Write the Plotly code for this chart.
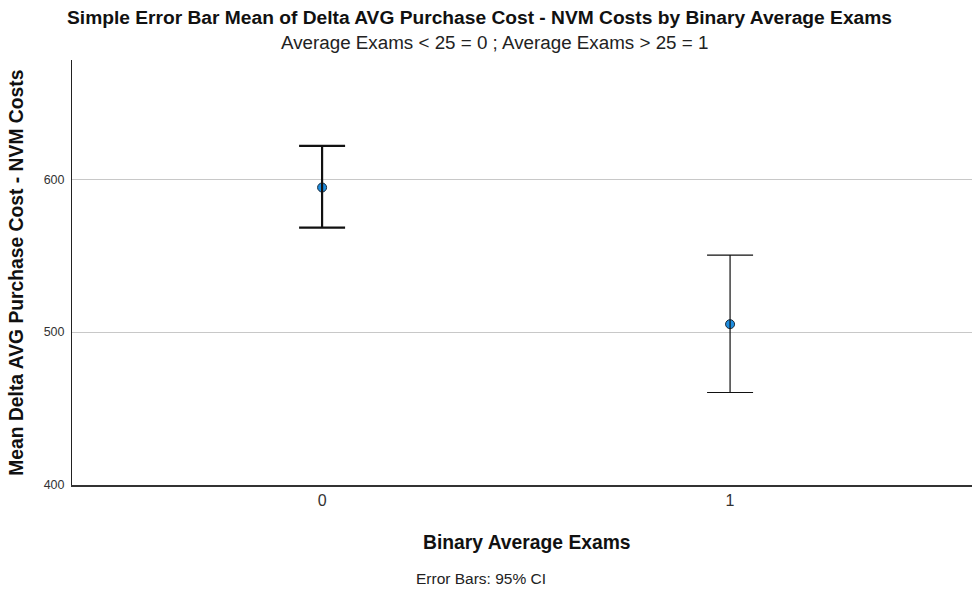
import plotly.graph_objects as go

categories = ["0", "1"]
means = [594.6, 505.2]
upper = [621.8, 550.3]
lower = [568.3, 460.5]

xpos = [0, 1]
thick = [2.2, 1.2]

fig = go.Figure()

fig.add_trace(go.Scatter(
    x=xpos, y=means, mode="markers",
    marker=dict(size=9, color="#1f8ee0", line=dict(color="#1a2a3a", width=1)),
    showlegend=False, hoverinfo="skip"))

for i in range(len(categories)):
    fig.add_trace(go.Scatter(
        x=[xpos[i]], y=[means[i]], mode="markers",
        marker=dict(size=1, opacity=0),
        error_y=dict(type="data", symmetric=False,
                     array=[upper[i] - means[i]],
                     arrayminus=[means[i] - lower[i]],
                     width=23, thickness=thick[i], color="#111111"),
        showlegend=False, hoverinfo="skip"))

font = "Liberation Sans, Arial, sans-serif"

fig.update_layout(
    width=973, height=592,
    margin=dict(l=72, r=1, t=60, b=107),
    paper_bgcolor="white", plot_bgcolor="white",
    font=dict(family=font, color="#222"),
    xaxis=dict(range=[-0.613, 1.593], tickvals=xpos, ticktext=categories,
               showgrid=False, zeroline=False, showline=True,
               linecolor="#333", linewidth=1.5, ticks="",
               tickfont=dict(size=16, color="#333")),
    yaxis=dict(range=[400, 678], tickvals=[400, 500, 600],
               showgrid=True, gridcolor="#c8c8c8", gridwidth=1,
               zeroline=False, showline=True, linecolor="#222", linewidth=1,
               ticks="", ticklabelstandoff=4, tickfont=dict(size=12.5, color="#333")),
    annotations=[
        dict(text="<b>Simple Error Bar Mean of Delta AVG Purchase Cost - NVM Costs by Binary Average Exams</b>",
             xref="paper", yref="paper", x=0.453, y=1.099, xanchor="center", yanchor="middle",
             showarrow=False, font=dict(size=19.2, color="#111")),
        dict(text="Average Exams < 25 = 0 ; Average Exams > 25 = 1",
             xref="paper", yref="paper", x=0.469, y=1.04, xanchor="center", yanchor="middle",
             showarrow=False, font=dict(size=18.8, color="#222")),
        dict(text="<b>Mean Delta AVG Purchase Cost - NVM Costs</b>",
             xref="paper", yref="paper", x=-0.062, y=0.5, xanchor="center", yanchor="middle",
             textangle=-90, showarrow=False, font=dict(size=19.3, color="#111")),
        dict(text="<b>Binary Average Exams</b>",
             xref="paper", yref="paper", x=0.506, y=-0.136, xanchor="center", yanchor="middle",
             showarrow=False, font=dict(size=19.3, color="#111")),
        dict(text="Error Bars: 95% CI",
             xref="paper", yref="paper", x=0.454, y=-0.221, xanchor="center", yanchor="middle",
             showarrow=False, font=dict(size=15.5, color="#222")),
    ],
)

fig.write_html("out.html", config={"displayModeBar": False},
               post_script="document.body.style.margin='0px';document.body.style.padding='0px';")
